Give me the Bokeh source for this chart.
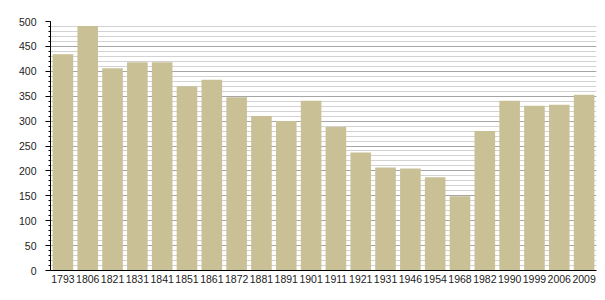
from bokeh.plotting import figure
from bokeh.models import ColumnDataSource, FactorRange, Range1d, SingleIntervalTicker
from bokeh.embed import file_html
from bokeh.resources import INLINE

years = ["1793", "1806", "1821", "1831", "1841", "1851", "1861", "1872", "1881", "1891", "1901",
         "1911", "1921", "1931", "1946", "1954", "1968", "1982", "1990", "1999", "2006", "2009"]
population = [434, 491, 406, 418, 418, 370, 383, 348, 310, 300, 341,
              288, 237, 207, 205, 187, 149, 280, 341, 331, 333, 353]

source = ColumnDataSource(data=dict(year=years, pop=population))

p = figure(x_range=FactorRange(*years, range_padding=0), y_range=Range1d(0, 500),
           width=605, height=300, output_backend="svg", toolbar_location=None,
           min_border_left=50, min_border_right=9, min_border_top=21, min_border_bottom=30)
p.outline_line_color = None
p.background_fill_color = "white"

p.vbar(x="year", top="pop", width=0.83, source=source,
       fill_color="#c9c096", line_color=None)

p.xgrid.grid_line_color = None
p.ygrid.grid_line_color = "#a6a6a6"
p.ygrid.minor_grid_line_color = "#d2d2d2"
p.ygrid.grid_line_width = 1

ya = p.yaxis[0]
ya.ticker = SingleIntervalTicker(interval=50, num_minor_ticks=5)
ya.axis_line_color = "black"
ya.major_tick_line_color = "black"
ya.minor_tick_line_color = "black"
ya.major_tick_out = 5
ya.major_tick_in = 0
ya.minor_tick_out = 2
ya.minor_tick_in = 0
ya.major_label_standoff = 9
ya.major_label_text_font = "Liberation Sans"
ya.major_label_text_font_size = "10.5px"
ya.major_label_text_color = "#222222"

xa = p.xaxis[0]
xa.axis_line_color = "black"
xa.major_tick_line_color = None
xa.minor_tick_line_color = None
xa.major_tick_out = 0
xa.major_tick_in = 0
xa.major_label_standoff = 4
xa.major_label_text_font = "Liberation Sans"
xa.major_label_text_font_size = "10.5px"
xa.major_label_text_color = "#222222"
xa.group_text_font_size = "0px"

open("out.html", "w").write(file_html(p, INLINE))
